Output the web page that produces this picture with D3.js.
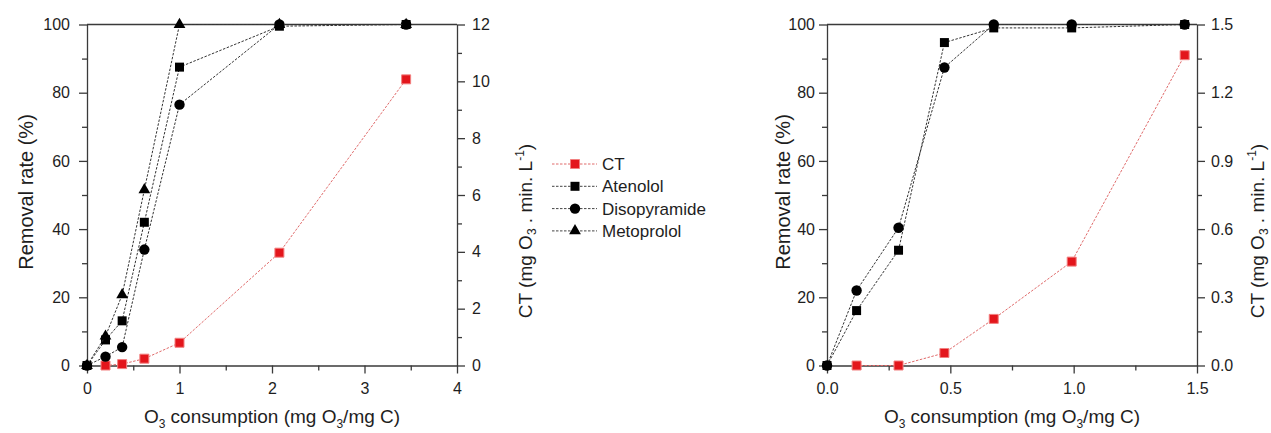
<!DOCTYPE html>
<html>
<head>
<meta charset="utf-8">
<script src="https://cdn.jsdelivr.net/npm/d3@7"></script>
<style>
  body { margin: 0; background: #fff; }
  svg { font-family: "Liberation Sans", Arial, sans-serif; }
</style>
</head>
<body>
<svg id="chart" width="1271" height="433"></svg>
<script>
// left panel data (O3 consumption, mg O3/mg C)
const leftDose = [0, 0.2, 0.38, 0.62, 1.0, 2.08, 3.45];
const leftAtenolol = [0, 7.5, 13.1, 42, 87.5, 99.5, 100];
const leftDisopyramide = [0, 2.6, 5.4, 34, 76.5, 100, 100];
const leftMetoprolol = [0, 8.6, 20.7, 51.5, 100, 100, 100];
const leftCT = [null, 0, 0.05, 0.24, 0.8, 3.97, 10.07];

// right panel data
const rightDose = [0, 0.12, 0.29, 0.476, 0.676, 0.992, 1.45];
const rightAtenolol = [0, 16.1, 33.8, 94.7, 99, 99, 100];
const rightDisopyramide = [0, 22, 40.4, 87.4, 100, 100, 100];
const rightCT = [null, 0, 0, 0.055, 0.205, 0.457, 1.365];

// tick labels
const leftXTicks = [0, 1, 2, 3, 4];
const rightXTicks = [0, 0.5, 1.0, 1.5];
const removalTicks = [0, 20, 40, 60, 80, 100];
const leftCTTicks = [0, 2, 4, 6, 8, 10, 12];
const rightCTTicks = [0, 0.3, 0.6, 0.9, 1.2, 1.5];

const legendNames = ["CT", "Atenolol", "Disopyramide", "Metoprolol"];

const svg = d3.select("#chart");
const axisColor = "#3a3a3a";
const textColor = "#1e1e1e";
const red = "#e3161c";

function drawPanel(p) {
  const x = d3.scaleLinear().domain(p.xDomain).range([p.left, p.right]);
  const y = d3.scaleLinear().domain([0, 100]).range([365.5, 24.5]);
  const yCT = d3.scaleLinear().domain(p.ctDomain).range([365.5, 24.5]);
  const g = svg.append("g");

  //     top frame line
  g.append("line")
    .attr("x1", p.left)
    .attr("x2", p.right)
    .attr("y1", y(100))
    .attr("y2", y(100))
    .attr("stroke", axisColor)
    .attr("stroke-width", 1.3);

  //     minor ticks
  g.append("g")
    .attr("transform", `translate(0, ${y(0)})`)
    .call(d3.axisBottom(x).tickValues(p.xMinor).tickSize(5).tickFormat(""))
    .call((a) => a.select(".domain").remove());
  g.append("g")
    .attr("transform", `translate(${p.left}, 0)`)
    .call(d3.axisLeft(y).tickValues([10, 30, 50, 70, 90]).tickSize(5).tickFormat(""))
    .call((a) => a.select(".domain").remove());
  g.append("g")
    .attr("transform", `translate(${p.right}, 0)`)
    .call(d3.axisRight(yCT).tickValues(p.ctMinor).tickSize(5).tickFormat(""))
    .call((a) => a.select(".domain").remove());

  //     major axes
  g.append("g")
    .attr("transform", `translate(0, ${y(0)})`)
    .call(
      d3.axisBottom(x).tickValues(p.xTicks).tickSize(8).tickSizeOuter(0)
        .tickPadding(9).tickFormat(d3.format(p.xFormat))
    );
  g.append("g")
    .attr("transform", `translate(${p.left}, 0)`)
    .call(
      d3.axisLeft(y).tickValues(removalTicks).tickSize(8).tickSizeOuter(0)
        .tickPadding(p.yPad)
    );
  g.append("g")
    .attr("transform", `translate(${p.right}, 0)`)
    .call(
      d3.axisRight(yCT).tickValues(p.ctTicks).tickSize(8).tickSizeOuter(0)
        .tickPadding(p.ctPad).tickFormat(d3.format(p.ctFormat))
    );

  g.selectAll(".domain, .tick line")
    .attr("stroke", axisColor)
    .attr("stroke-width", 1.3);
  g.selectAll(".tick text")
    .attr("font-size", 16)
    .attr("font-family", "Liberation Sans, Arial, sans-serif")
    .attr("fill", textColor);

  //     axis titles
  const xt = g.append("text")
    .attr("x", (p.left + p.right) / 2)
    .attr("y", 423)
    .attr("text-anchor", "middle")
    .attr("font-size", 19)
    .attr("fill", textColor);
  xt.append("tspan").text("O");
  xt.append("tspan").attr("font-size", 12).attr("dy", 5).text("3");
  xt.append("tspan").attr("dy", -5).text(" consumption (mg O");
  xt.append("tspan").attr("font-size", 12).attr("dy", 5).text("3");
  xt.append("tspan").attr("dy", -5).text("/mg C)");

  g.append("text")
    .attr("transform", `translate(${p.yTitleX}, 192) rotate(-90)`)
    .attr("text-anchor", "middle")
    .attr("font-size", 20)
    .attr("fill", textColor)
    .text("Removal rate (%)");

  const ct = g.append("text")
    .attr("transform", `translate(${p.ctTitleX}, 231) rotate(-90)`)
    .attr("text-anchor", "middle")
    .attr("font-size", 19)
    .attr("fill", textColor);
  ct.append("tspan").text("CT (mg O");
  ct.append("tspan").attr("font-size", 12).attr("dy", 4).text("3");
  ct.append("tspan").attr("dy", -4).text(" .  min.  L");
  ct.append("tspan").attr("font-size", 12).attr("dy", -8).text("-1");
  ct.append("tspan").attr("dy", 8).text(")");

  //     series: CT on right axis, compounds on left axis
  const series = [
    { values: p.ct, scale: yCT, type: d3.symbolSquare, size: 81, red: true },
    { values: p.atenolol, scale: y, type: d3.symbolSquare, size: 81 },
    { values: p.disopyramide, scale: y, type: d3.symbolCircle, size: 85 },
  ];
  if (p.metoprolol) {
    series.push({ values: p.metoprolol, scale: y, type: d3.symbolTriangle, size: 60 });
  }

  series.forEach((s) => {
    const pts = p.dose.map((d, i) => [d, s.values[i]]).filter((d) => d[1] != null);
    const line = d3.line()
      .x((d) => x(d[0]))
      .y((d) => s.scale(d[1]));
    g.append("path")
      .datum(pts)
      .attr("d", line)
      .attr("fill", "none")
      .attr("stroke", s.red ? "#e06a6a" : "#333")
      .attr("stroke-width", 1)
      .attr("stroke-dasharray", "2.5,1.5");
    g.selectAll(null)
      .data(pts)
      .enter()
      .append("path")
      .attr("d", d3.symbol().type(s.type).size(s.size))
      .attr("transform", (d) => `translate(${x(d[0])}, ${s.scale(d[1])})`)
      .attr("fill", s.red ? red : "#000")
      .attr("stroke", s.red ? "#f28080" : "none")
      .attr("stroke-width", 1);
  });
}

drawPanel({
  left: 87,
  right: 457,
  xDomain: [0, 4],
  xTicks: leftXTicks,
  xMinor: [0.5, 1.5, 2.5, 3.5],
  xFormat: "d",
  ctDomain: [0, 12],
  ctTicks: leftCTTicks,
  ctMinor: [1, 3, 5, 7, 9, 11],
  ctFormat: "d",
  yPad: 9,
  ctPad: 7,
  yTitleX: 33,
  ctTitleX: 532,
  dose: leftDose,
  ct: leftCT,
  atenolol: leftAtenolol,
  disopyramide: leftDisopyramide,
  metoprolol: leftMetoprolol,
});

drawPanel({
  left: 827,
  right: 1197,
  xDomain: [0, 1.5],
  xTicks: rightXTicks,
  xMinor: [0.25, 0.75, 1.25],
  xFormat: ".1f",
  ctDomain: [0, 1.5],
  ctTicks: rightCTTicks,
  ctMinor: [0.15, 0.45, 0.75, 1.05, 1.35],
  ctFormat: ".1f",
  yPad: 4,
  ctPad: 6,
  yTitleX: 790,
  ctTitleX: 1264,
  dose: rightDose,
  ct: rightCT,
  atenolol: rightAtenolol,
  disopyramide: rightDisopyramide,
});

//     legend
const legendTypes = [d3.symbolSquare, d3.symbolSquare, d3.symbolCircle, d3.symbolTriangle];
const legendSizes = [81, 81, 85, 60];
const legend = svg.append("g");
legendNames.forEach((name, i) => {
  const ly = 164 + i * 22.3;
  legend.append("line")
    .attr("x1", 552)
    .attr("x2", 597)
    .attr("y1", ly)
    .attr("y2", ly)
    .attr("stroke", i === 0 ? "#e06a6a" : "#444")
    .attr("stroke-width", 1)
    .attr("stroke-dasharray", "2.5,1.5");
  legend.append("path")
    .attr("d", d3.symbol().type(legendTypes[i]).size(legendSizes[i]))
    .attr("transform", `translate(575, ${ly})`)
    .attr("fill", i === 0 ? red : "#000")
    .attr("stroke", i === 0 ? "#f28080" : "none");
  legend.append("text")
    .attr("x", 602)
    .attr("y", ly + 6)
    .attr("font-size", 17)
    .attr("fill", textColor)
    .text(name);
});
</script>
</body>
</html>
